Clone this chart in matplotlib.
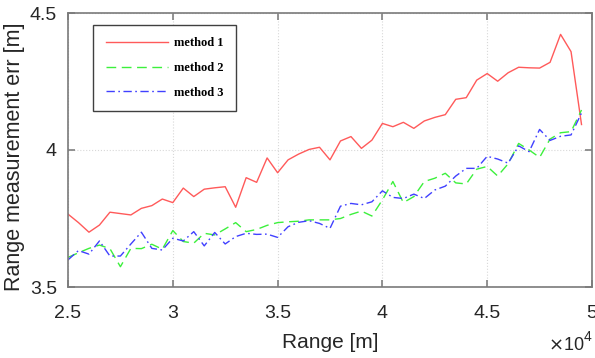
import numpy as np
import matplotlib
matplotlib.use("Agg")
import matplotlib.pyplot as plt

# Range samples [m]
rng = np.arange(25000, 50000, 500)

method1 = [3.766, 3.735, 3.700, 3.726, 3.773, 3.768, 3.763, 3.787, 3.797, 3.821,
           3.808, 3.861, 3.830, 3.857, 3.862, 3.866, 3.791, 3.899, 3.882, 3.971,
           3.917, 3.964, 3.985, 4.002, 4.010, 3.964, 4.033, 4.049, 4.006, 4.036,
           4.097, 4.085, 4.101, 4.079, 4.106, 4.119, 4.129, 4.185, 4.191, 4.255,
           4.279, 4.251, 4.282, 4.302, 4.300, 4.299, 4.320, 4.422, 4.359, 4.093]

method2 = [3.608, 3.625, 3.641, 3.653, 3.640, 3.574, 3.641, 3.640, 3.656, 3.638,
           3.706, 3.666, 3.660, 3.696, 3.690, 3.712, 3.735, 3.702, 3.710, 3.725,
           3.735, 3.738, 3.740, 3.745, 3.745, 3.745, 3.750, 3.765, 3.777, 3.759,
           3.818, 3.885, 3.808, 3.830, 3.885, 3.897, 3.915, 3.880, 3.876, 3.930,
           3.940, 3.905, 3.950, 4.024, 4.000, 3.973, 4.040, 4.063, 4.067, 4.146]

method3 = [3.599, 3.633, 3.620, 3.668, 3.613, 3.613, 3.657, 3.700, 3.641, 3.635,
           3.678, 3.668, 3.702, 3.650, 3.699, 3.657, 3.684, 3.696, 3.692, 3.693,
           3.681, 3.720, 3.736, 3.742, 3.732, 3.714, 3.795, 3.805, 3.800, 3.811,
           3.851, 3.827, 3.823, 3.839, 3.823, 3.854, 3.868, 3.905, 3.933, 3.933,
           3.977, 3.967, 3.952, 4.015, 3.994, 4.075, 4.035, 4.050, 4.055, 4.135]

labels = ["method 1", "method 2", "method 3"]
xticks = [25000, 30000, 35000, 40000, 45000, 50000]
xticklabels = ["2.5", "3", "3.5", "4", "4.5", "5"]
yticks = [3.5, 4.0, 4.5]
yticklabels = ["3.5", "4", "4.5"]

plt.rcParams['font.family'] = ['Liberation Sans', 'DejaVu Sans']

W, H = 595, 358
fig = plt.figure(figsize=(W / 100, H / 100), dpi=100)
axw, axh = 592 - 68, 287 - 13
ax = fig.add_axes([68 / W, 1 - 287 / H, axw / W, axh / H])

ax.plot(rng, method1, color='#ff5a5a', lw=1.0, ls='-', label=labels[0])
ax.plot(rng, method2, color='#3cf03c', lw=1.0, ls=(0, (7, 4)), label=labels[1])
ax.plot(rng, method3, color='#4040ff', lw=1.0, ls=(0, (6, 2.5, 1.2, 2.5)), label=labels[2])

ax.set_xlim(25000, 50000)
ax.set_ylim(3.5, 4.5)
ax.set_xticks(xticks)
ax.set_xticklabels(xticklabels)
ax.set_yticks(yticks)
ax.set_yticklabels(yticklabels)
ax.tick_params(direction='in', length=5, width=1.2, color='#808080',
               labelsize=14, labelcolor='#262626', top=True, right=True, pad=8)
ax.tick_params(axis='x', pad=13)
for s in ax.spines.values():
    s.set_color('#7a7a7a')
    s.set_linewidth(1.2)
ax.grid(True, color='#d8d8d8', ls=':', lw=0.8)

ax.set_xlabel("Range [m]", fontsize=15, color='#262626')
ax.xaxis.set_label_coords((330 - 68) / axw, -(342 - 287) / axh)
ax.xaxis.label.set_va('center')
ax.set_ylabel("Range measurement err [m]", fontsize=15.5, color='#262626')
ax.yaxis.set_label_coords(-(68 - 15) / axw, (287 - 157) / axh)
ax.yaxis.label.set_va('center')

fig.text(548 / W, 1 - 345 / H, r"$\times$10", fontsize=13, color='#262626',
         va='center', ha='left')
fig.text(584 / W, 1 - 337 / H, "4", fontsize=10, color='#262626',
         va='center', ha='left')

leg = ax.legend(loc='upper left',
                bbox_to_anchor=((93 - 68) / axw, 1 - (25 - 13) / axh),
                frameon=True, fancybox=False, edgecolor='#404040', framealpha=1,
                prop={'family': ['Liberation Serif'], 'weight': 'bold', 'size': 9},
                handlelength=5.0, borderpad=1.0, labelspacing=1.0, borderaxespad=0,
                handletextpad=0.5)
leg.get_frame().set_linewidth(1.0)

fig.savefig("out.png", dpi=100)
